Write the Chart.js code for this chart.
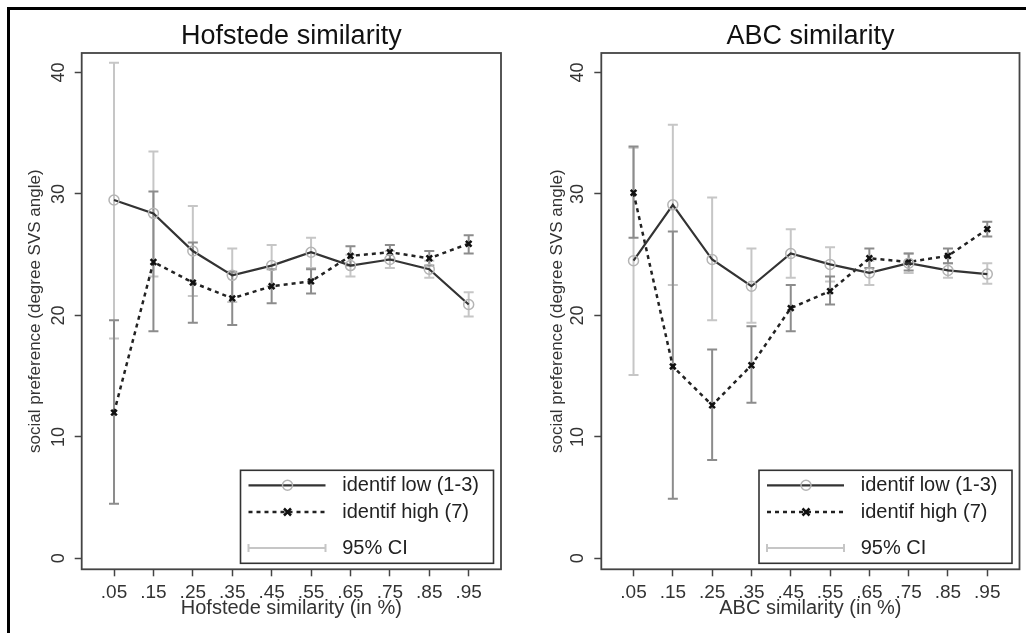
<!DOCTYPE html>
<html>
<head>
<meta charset="utf-8">
<script src="https://cdn.jsdelivr.net/npm/chart.js@4.4.1/dist/chart.umd.min.js"></script>
<style>
  body { margin: 0; background: #fff; }
  #frame { position: absolute; left: 7px; top: 7px; width: 1040px; height: 650px; border-left: 3px solid #000; border-top: 3px solid #000; }
  canvas { position: absolute; top: 0; }
  #hof { left: 0; }
  #abc { left: 513px; }
</style>
</head>
<body>
<div id="frame"></div>
<canvas id="hof" width="513" height="633"></canvas>
<canvas id="abc" width="513" height="633"></canvas>
<script>
// similarity bins and labels
const xVals = [0.05, 0.15, 0.25, 0.35, 0.45, 0.55, 0.65, 0.75, 0.85, 0.95];
const xLabels = ['.05', '.15', '.25', '.35', '.45', '.55', '.65', '.75', '.85', '.95'];
const yTicks = [0, 10, 20, 30, 40];
const yTitle = 'social preference (degree SVS angle)';
const legendLabels = ['identif low (1-3)', 'identif high (7)', '95% CI'];

// Hofstede panel
const hofLow    = [29.5, 28.4, 25.3, 23.3, 24.1, 25.2, 24.1, 24.6, 23.8, 20.9];
const hofLowLo  = [18.1, 23.2, 21.6, 21.1, 22.4, 23.9, 23.2, 23.9, 23.1, 19.9];
const hofLowHi  = [40.8, 33.5, 29.0, 25.5, 25.8, 26.4, 25.0, 25.3, 24.5, 21.9];
const hofHigh   = [12.0, 24.4, 22.7, 21.4, 22.4, 22.8, 24.9, 25.2, 24.7, 25.9];
const hofHighLo = [4.5, 18.7, 19.4, 19.2, 21.0, 21.8, 24.1, 24.6, 24.1, 25.1];
const hofHighHi = [19.6, 30.2, 26.0, 23.6, 23.8, 23.8, 25.7, 25.8, 25.3, 26.6];

// ABC panel
const abcLow    = [24.5, 29.1, 24.6, 22.4, 25.1, 24.2, 23.5, 24.3, 23.7, 23.4];
const abcLowLo  = [15.1, 22.5, 19.6, 19.4, 23.1, 22.8, 22.5, 23.5, 23.1, 22.6];
const abcLowHi  = [33.8, 35.7, 29.7, 25.5, 27.1, 25.6, 24.5, 25.1, 24.3, 24.3];
const abcHigh   = [30.1, 15.8, 12.6, 15.9, 20.6, 22.0, 24.7, 24.4, 24.9, 27.1];
const abcHighLo = [26.4, 4.9, 8.1, 12.8, 18.7, 20.9, 23.9, 23.7, 24.3, 26.5];
const abcHighHi = [33.9, 26.9, 17.2, 19.1, 22.5, 23.2, 25.5, 25.1, 25.5, 27.7];

Chart.defaults.font.family = '"Liberation Sans", Arial, sans-serif';

const LOW_CI = '#c6c6c6';
const HIGH_CI = '#8c8c8c';
const DASH = [4, 4];

function points(arr) {
    return xVals.map((x, i) => ({ x: x, y: arr[i] }));
}

function makeChart(id, title, xTitle, d, pad) {
    const extras = {
        id: 'extras',
        beforeDatasetsDraw(chart) {
            const ctx = chart.ctx, xs = chart.scales.x, ys = chart.scales.y;
            ctx.save();
            [[d.lowLo, d.lowHi, LOW_CI], [d.highLo, d.highHi, HIGH_CI]].forEach(([lo, hi, color]) => {
                ctx.strokeStyle = color;
                ctx.lineWidth = 2;
                xVals.forEach((v, i) => {
                    const px = xs.getPixelForValue(v);
                    const p1 = ys.getPixelForValue(lo[i]);
                    const p2 = ys.getPixelForValue(hi[i]);
                    ctx.beginPath();
                    ctx.moveTo(px, p1); ctx.lineTo(px, p2);
                    ctx.moveTo(px - 5, p1); ctx.lineTo(px + 5, p1);
                    ctx.moveTo(px - 5, p2); ctx.lineTo(px + 5, p2);
                    ctx.stroke();
                });
            });
            ctx.restore();
        },
        afterDraw(chart) {
            const ctx = chart.ctx, ca = chart.chartArea, ys = chart.scales.y;
            ctx.save();
            // plot box
            ctx.strokeStyle = '#444';
            ctx.lineWidth = 1.8;
            ctx.strokeRect(ca.left, ca.top, ca.right - ca.left, ca.bottom - ca.top);

            // rotated y tick labels
            ctx.fillStyle = '#333';
            ctx.font = '18px "Liberation Sans", Arial, sans-serif';
            ctx.textAlign = 'center';
            ctx.textBaseline = 'middle';
            yTicks.forEach(v => {
                ctx.save();
                ctx.translate(ca.left - 23, ys.getPixelForValue(v));
                ctx.rotate(-Math.PI / 2);
                ctx.fillText(String(v), 0, 0);
                ctx.restore();
            });

            // legend
            const w = 253, h = 93;
            const bx = ca.right - 7.5 - w, by = ca.bottom - 6 - h;
            ctx.fillStyle = '#fff';
            ctx.fillRect(bx, by, w, h);
            ctx.strokeStyle = '#333';
            ctx.lineWidth = 1.6;
            ctx.strokeRect(bx, by, w, h);

            const r1 = by + 15, r2 = by + 41.7, r3 = by + 77.7;
            const lx1 = bx + 8, lx2 = bx + 85, mx = bx + 47;

            ctx.strokeStyle = '#333';
            ctx.lineWidth = 2.2;
            ctx.beginPath(); ctx.moveTo(lx1, r1); ctx.lineTo(lx2, r1); ctx.stroke();
            ctx.strokeStyle = '#b4b4b4';
            ctx.lineWidth = 1.5;
            ctx.beginPath(); ctx.arc(mx, r1, 5, 0, Math.PI * 2); ctx.stroke();

            ctx.strokeStyle = '#222';
            ctx.lineWidth = 2.5;
            ctx.setLineDash(DASH);
            ctx.beginPath(); ctx.moveTo(lx1, r2); ctx.lineTo(lx2, r2); ctx.stroke();
            ctx.setLineDash([]);
            ctx.strokeStyle = '#111';
            ctx.beginPath();
            ctx.moveTo(mx - 3.5, r2 - 3.5); ctx.lineTo(mx + 3.5, r2 + 3.5);
            ctx.moveTo(mx - 3.5, r2 + 3.5); ctx.lineTo(mx + 3.5, r2 - 3.5);
            ctx.stroke();

            ctx.strokeStyle = LOW_CI;
            ctx.lineWidth = 2;
            ctx.beginPath();
            ctx.moveTo(lx1, r3); ctx.lineTo(lx2, r3);
            ctx.moveTo(lx1, r3 - 4); ctx.lineTo(lx1, r3 + 4);
            ctx.moveTo(lx2, r3 - 4); ctx.lineTo(lx2, r3 + 4);
            ctx.stroke();

            ctx.fillStyle = '#222';
            ctx.font = '20px "Liberation Sans", Arial, sans-serif';
            ctx.textAlign = 'left';
            ctx.fillText(legendLabels[0], bx + 101.7, r1);
            ctx.fillText(legendLabels[1], bx + 101.7, r2);
            ctx.fillText(legendLabels[2], bx + 101.7, r3);
            ctx.restore();
        }
    };

    return new Chart(document.getElementById(id), {
        type: 'line',
        data: {
            datasets: [{
                label: legendLabels[0],
                data: points(d.low),
                borderColor: '#333',
                borderWidth: 2.2,
                pointStyle: 'circle',
                pointRadius: 5,
                pointBorderColor: '#b4b4b4',
                pointBackgroundColor: 'rgba(0,0,0,0)',
                pointBorderWidth: 1.5,
                tension: 0,
                fill: false
            },
            {
                label: legendLabels[1],
                data: points(d.high),
                borderColor: '#222',
                borderWidth: 2.5,
                borderDash: DASH,
                pointStyle: 'crossRot',
                pointRadius: 4,
                pointBorderColor: '#111',
                pointBorderWidth: 2.5,
                tension: 0,
                fill: false
            }]
        },
        options: {
            responsive: false,
            animation: false,
            devicePixelRatio: 1,
            events: [],
            layout: { padding: { top: 0, left: 0, right: pad.right, bottom: 0 } },
            plugins: {
                legend: { display: false },
                tooltip: { enabled: false },
                title: {
                    display: true,
                    text: title,
                    fullSize: false,
                    color: '#111',
                    font: { size: 27, weight: 'normal' },
                    padding: { top: 20.6, bottom: 0 }
                }
            },
            scales: {
                x: {
                    type: 'linear',
                    min: -0.032,
                    max: 1.032,
                    afterBuildTicks: s => { s.ticks = xVals.map(v => ({ value: v })); },
                    afterFit: s => { s.height = 63.7; },
                    ticks: {
                        callback: (v, i) => xLabels[i],
                        color: '#333',
                        font: { size: 19 },
                        padding: 5,
                        maxRotation: 0,
                        autoSkip: false
                    },
                    grid: { drawOnChartArea: false, tickLength: 7, tickColor: '#444', tickWidth: 1.5 },
                    border: { display: false },
                    title: {
                        display: true,
                        text: xTitle,
                        color: '#333',
                        font: { size: 20 },
                        padding: { top: 0, bottom: 12.5 }
                    }
                },
                y: {
                    min: -0.9,
                    max: 41.6,
                    afterBuildTicks: s => { s.ticks = yTicks.map(v => ({ value: v })); },
                    afterFit: s => { s.width = pad.left; },
                    ticks: { display: false },
                    grid: { drawOnChartArea: false, tickLength: 7, tickColor: '#444', tickWidth: 1.5 },
                    border: { display: false },
                    title: {
                        display: true,
                        text: yTitle,
                        color: '#333',
                        font: { size: 17 },
                        padding: { top: pad.yTitle, bottom: 0 }
                    }
                }
            }
        },
        plugins: [extras]
    });
}

makeChart('hof', 'Hofstede similarity', 'Hofstede similarity (in %)',
    { low: hofLow, lowLo: hofLowLo, lowHi: hofLowHi, high: hofHigh, highLo: hofHighLo, highHi: hofHighHi },
    { left: 81.7, right: 12, yTitle: 24.8 });

makeChart('abc', 'ABC similarity', 'ABC similarity (in %)',
    { low: abcLow, lowLo: abcLowLo, lowHi: abcLowHi, high: abcHigh, highLo: abcHighLo, highHi: abcHighHi },
    { left: 88.3, right: 4, yTitle: 33.8 });
</script>
</body>
</html>
